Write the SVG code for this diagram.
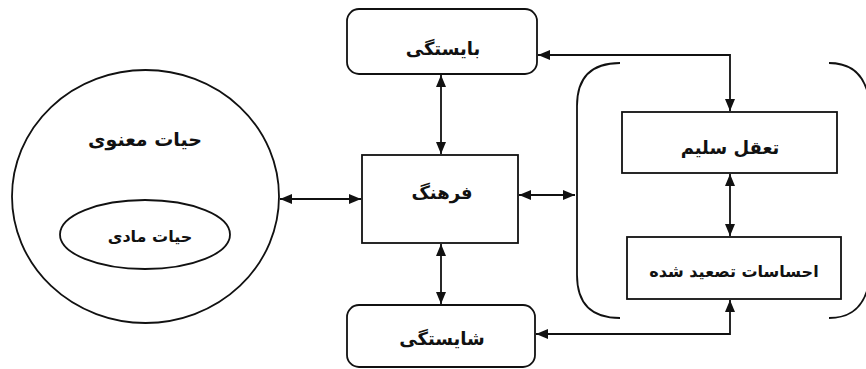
<svg xmlns="http://www.w3.org/2000/svg" width="866" height="369" viewBox="0 0 866 369">
<defs>
<marker id="ah" viewBox="0 0 12 10" refX="12" refY="5" markerWidth="12" markerHeight="10" markerUnits="userSpaceOnUse" orient="auto-start-reverse">
<path d="M0,0 L12,5 L0,10 Z" fill="#111"/>
</marker>
</defs>
<style>
.box{fill:#fff;stroke:#111;stroke-width:1.8}
.ln{fill:none;stroke:#111;stroke-width:1.8}
.t{font-family:"DejaVu Sans",sans-serif;font-weight:bold;fill:#111;text-anchor:middle}
.big{font-size:18px}
.mid{font-size:16px}
</style>
<rect width="866" height="369" fill="#fff"/>
<g id="hayat-manavi">
<ellipse class="box" cx="145.5" cy="196.5" rx="133.5" ry="126.5"/>
<text class="t" style="font-size:19px" x="145" y="146" direction="rtl">حیات معنوی</text>
</g>
<g id="hayat-madi">
<ellipse class="box" cx="145" cy="234.5" rx="85" ry="34.5"/>
<text class="t mid" x="150" y="242" direction="rtl">حیات مادی</text>
</g>
<g id="bayestegi">
<rect class="box" x="347" y="9" width="190" height="65" rx="12"/>
<text class="t big" x="443" y="55" direction="rtl">بایستگی</text>
</g>
<g id="farhang">
<rect class="box" x="362" y="155" width="156" height="88"/>
<text class="t big" x="442" y="199" direction="rtl">فرهنگ</text>
</g>
<g id="shayestegi">
<rect class="box" x="347" y="305" width="188" height="62" rx="12"/>
<text class="t big" x="442" y="345" direction="rtl">شایستگی</text>
</g>
<g id="bracket">
<path class="ln" d="M620,63 Q577,63 577,106 L577,275 Q577,318 620,318"/>
<path class="ln" d="M829,63 Q866,63 870,106 L870,275 Q866,318 829,318"/>
</g>
<g id="taaqol">
<rect class="box" x="622" y="112" width="215" height="61"/>
<text class="t big" x="730" y="154" direction="rtl">تعقل سلیم</text>
</g>
<g id="ehsasat">
<rect class="box" x="627" y="237" width="214" height="62"/>
<text class="t mid" x="734" y="277" direction="rtl">احساسات تصعید شده</text>
</g>
<g id="connectors">
<line class="ln" x1="280" y1="199" x2="361" y2="199" marker-start="url(#ah)" marker-end="url(#ah)"/>
<line class="ln" x1="441" y1="75" x2="441" y2="154" marker-start="url(#ah)" marker-end="url(#ah)"/>
<line class="ln" x1="441" y1="244" x2="441" y2="304" marker-start="url(#ah)" marker-end="url(#ah)"/>
<line class="ln" x1="519" y1="195" x2="575" y2="195" marker-start="url(#ah)" marker-end="url(#ah)"/>
<polyline class="ln" points="538,55 730,55 730,111" marker-start="url(#ah)" marker-end="url(#ah)"/>
<line class="ln" x1="730" y1="174" x2="730" y2="236" marker-start="url(#ah)" marker-end="url(#ah)"/>
<polyline class="ln" points="536,334 730,334 730,300" marker-start="url(#ah)" marker-end="url(#ah)"/>
</g>
</svg>
